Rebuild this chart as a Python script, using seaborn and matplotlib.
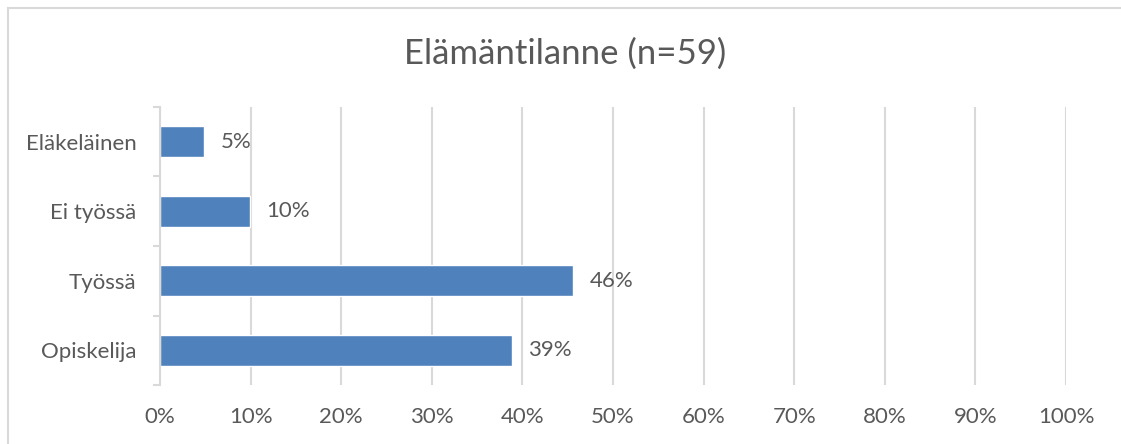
import matplotlib
matplotlib.use("Agg")
import matplotlib.pyplot as plt
from matplotlib.patches import Rectangle
from matplotlib.ticker import FixedLocator
import seaborn as sns
import pandas as pd

# Survey shares (%), listed top to bottom
categories = ["Eläkeläinen", "Ei työssä", "Työssä", "Opiskelija"]
shares = [4.9, 9.9, 45.6, 38.8]
x_ticks = [0, 10, 20, 30, 40, 50, 60, 70, 80, 90, 100]
x_tick_labels = [f"{t}%" for t in x_ticks]
title = "Elämäntilanne (n=59)"

BAR = "#4F81BD"
TEXT = "#595959"
GRID = "#D9D9D9"

sns.set_theme(style="white")
plt.rcParams["font.family"] = ["Lato", "DejaVu Sans"]

df = pd.DataFrame({"Tilanne": categories, "Osuus": shares})

fig = plt.figure(figsize=(11.21, 4.44), dpi=100)
ax = fig.add_axes([160 / 1121, 1 - 385 / 444, (1066 - 160) / 1121, (385 - 107) / 444])

sns.barplot(data=df, y="Tilanne", x="Osuus", order=categories, orient="h",
            color=BAR, saturation=1, width=0.44, ax=ax, zorder=3)

ax.set_xlim(0, 100)
ax.set_ylim(len(categories) - 0.5, -0.5)
ax.set_xticks(x_ticks)
ax.set_xticklabels(x_tick_labels)
ax.set_xlabel("")
ax.set_ylabel("")

# vertical gridlines
ax.grid(axis="x", color=GRID, linewidth=1.5, zorder=0)
ax.grid(axis="y", visible=False)

for side in ["top", "right", "bottom"]:
    ax.spines[side].set_visible(False)
ax.spines["left"].set_color(GRID)
ax.spines["left"].set_linewidth(1.5)
ax.spines["left"].set_zorder(4)

# category boundary ticks on the value axis
ax.yaxis.set_minor_locator(FixedLocator([i - 0.5 for i in range(len(categories) + 1)]))
ax.tick_params(axis="y", which="minor", left=True, length=5, width=1.5, color=GRID)
ax.tick_params(axis="y", which="major", left=False, length=0, pad=17,
               labelsize=16, labelcolor=TEXT)
ax.tick_params(axis="x", which="both", bottom=False, length=0, pad=15.5,
               labelsize=16, labelcolor=TEXT)

for cont in ax.containers:
    ax.bar_label(cont, labels=[f"{v:.0f}%" for v in shares], padding=12,
                 fontsize=16, color=TEXT)

fig.text(0.504, 1 - 54 / 444, title, ha="center", va="center",
         fontsize=25, color=TEXT)

# chart frame
fig.patches.append(Rectangle((8 / 1121, -0.5), 2, 1.5 - 8 / 444,
                             transform=fig.transFigure, fill=False,
                             edgecolor=GRID, linewidth=1.5, figure=fig))

fig.savefig("out.png", dpi=100, facecolor="white")
